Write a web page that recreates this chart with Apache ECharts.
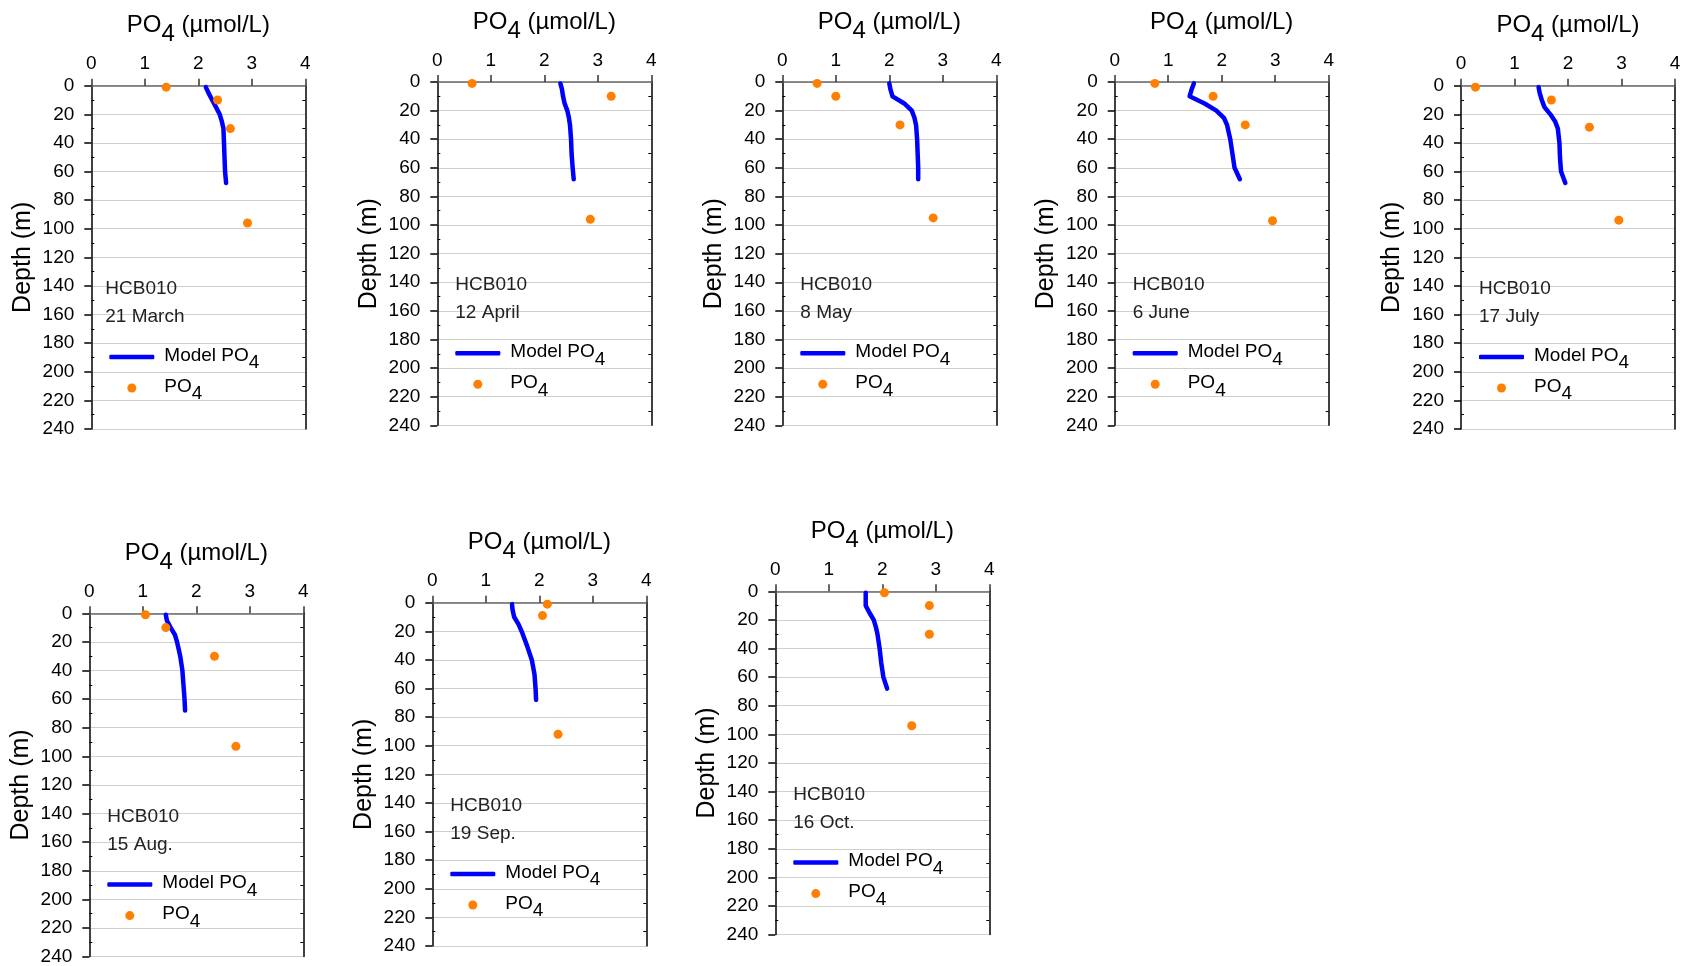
<!DOCTYPE html>
<html>
<head>
<meta charset="utf-8">
<script src="https://cdn.jsdelivr.net/npm/echarts@6/dist/echarts.min.js"></script>
<style>
html,body{margin:0;padding:0;background:#fff;}
#chart{width:1683px;height:966px;}
</style>
</head>
<body>
<div id="chart"></div>
<script>
// ---------------- DATA ----------------
const station = 'HCB010';
const dates = ['21 March', '12 April', '8 May', '6 June', '17 July', '15 Aug.', '19 Sep.', '16 Oct.'];

// model profile depths (m)
const modelDepth = [1, 5, 10, 15, 20, 25, 30, 40, 50, 60, 68];
// model PO4 (µmol/L) per survey
const model21Mar = [2.14, 2.19, 2.26, 2.33, 2.40, 2.44, 2.47, 2.48, 2.49, 2.50, 2.52];
const model12Apr = [2.30, 2.33, 2.35, 2.38, 2.43, 2.46, 2.48, 2.50, 2.51, 2.53, 2.55];
const model8May  = [2.00, 2.02, 2.06, 2.28, 2.42, 2.47, 2.50, 2.52, 2.53, 2.54, 2.54];
const model6Jun  = [1.48, 1.44, 1.40, 1.68, 1.90, 2.04, 2.10, 2.16, 2.20, 2.24, 2.34];
const model17Jul = [1.45, 1.47, 1.51, 1.56, 1.67, 1.76, 1.81, 1.84, 1.85, 1.87, 1.95];
const model15Aug = [1.43, 1.45, 1.52, 1.60, 1.64, 1.67, 1.70, 1.74, 1.76, 1.78, 1.79];
const model19Sep = [1.49, 1.50, 1.53, 1.61, 1.67, 1.72, 1.77, 1.86, 1.91, 1.93, 1.94];
const model16Oct = [1.69, 1.69, 1.69, 1.76, 1.84, 1.88, 1.91, 1.95, 1.98, 2.02, 2.09];

// observed PO4 (µmol/L) and sample depths (m)
const obsDepth21Mar = [1, 10, 30, 96];  const obs21Mar = [1.40, 2.36, 2.60, 2.92];
const obsDepth12Apr = [1, 10, 96];      const obs12Apr = [0.65, 3.25, 2.86];
const obsDepth8May  = [1, 10, 30, 95];  const obs8May  = [0.65, 1.00, 2.20, 2.82];
const obsDepth6Jun  = [1, 10, 30, 97];  const obs6Jun  = [0.75, 1.84, 2.44, 2.95];
const obsDepth17Jul = [1, 10, 29, 94];  const obs17Jul = [0.27, 1.69, 2.40, 2.95];
const obsDepth15Aug = [1, 10, 30, 93];  const obs15Aug = [1.05, 1.43, 2.34, 2.74];
const obsDepth19Sep = [1, 9, 92];       const obs19Sep = [2.15, 2.06, 2.35];
const obsDepth16Oct = [1, 10, 30, 94];  const obs16Oct = [2.04, 2.88, 2.88, 2.55];

const xMin = 0, xMax = 4, xStep = 1;
const depthMin = 0, depthMax = 240, depthStep = 20;

const modelList = [model21Mar, model12Apr, model8May, model6Jun, model17Jul, model15Aug, model19Sep, model16Oct];
const obsList = [obs21Mar, obs12Apr, obs8May, obs6Jun, obs17Jul, obs15Aug, obs19Sep, obs16Oct];
const obsDepthList = [obsDepth21Mar, obsDepth12Apr, obsDepth8May, obsDepth6Jun, obsDepth17Jul, obsDepth15Aug, obsDepth19Sep, obsDepth16Oct];

// ---------------- LAYOUT ----------------
const layout = [
  {left: 91.3,   top: 85.7,  dx: 14},
  {left: 437.3,  top: 82,    dx: 18},
  {left: 782.3,  top: 82,    dx: 18},
  {left: 1114.7, top: 82,    dx: 18},
  {left: 1461,   top: 85.7,  dx: 18},
  {left: 89.3,   top: 613.3, dx: 18},
  {left: 432.3,  top: 602.7, dx: 18},
  {left: 775.3,  top: 591.3, dx: 18}
];
const W = 214, H = 343.3;
const FONT = '"Liberation Sans", Arial, Helvetica, sans-serif';

const grids = [], xAxes = [], yAxes = [], series = [], legends = [], graphics = [];

const titleRich = {
  a: {fontSize: 24, fontFamily: FONT, color: '#000'},
  s: {fontSize: 24, fontFamily: FONT, color: '#000', padding: [18, 0, 0, 0]}
};
const legRichLine = {
  a: {fontSize: 19, fontFamily: FONT, color: '#000', padding: [0, 0, 3, 5]},
  s: {fontSize: 19, fontFamily: FONT, color: '#000', padding: [12, 0, 0, 0]}
};
const legRichDot = {
  a: {fontSize: 19, fontFamily: FONT, color: '#000', padding: [0, 0, 3, 23]},
  s: {fontSize: 19, fontFamily: FONT, color: '#000', padding: [12, 0, 0, 0]}
};

layout.forEach((p, i) => {
  grids.push({left: p.left, top: p.top, width: W, height: H, containLabel: false, outerBoundsMode: 'none'});

  xAxes.push({
    gridIndex: i, type: 'value', position: 'top', min: xMin, max: xMax, interval: xStep,
    name: '{a|PO}{s|4}{a| (\u00b5mol/L)}', nameLocation: 'middle', nameGap: 39,
    nameTextStyle: {rich: titleRich},
    axisLine: {show: true, onZero: false, lineStyle: {color: '#6a6a6a', width: 1.5}},
    axisTick: {show: true, length: 7, lineStyle: {color: '#333', width: 1.5}},
    axisLabel: {fontSize: 19, fontFamily: FONT, color: '#000', margin: 12},
    splitLine: {show: false}
  });

  // main left depth axis
  yAxes.push({
    gridIndex: i, type: 'value', inverse: true, position: 'left',
    min: depthMin, max: depthMax, interval: depthStep,
    name: 'Depth (m)', nameLocation: 'middle', nameGap: 56,
    nameTextStyle: {fontSize: 25, fontFamily: FONT, color: '#000'},
    axisLine: {show: true, onZero: false, lineStyle: {color: '#000', width: 1.5}},
    axisTick: {show: true, length: 7, lineStyle: {color: '#000', width: 1.5}},
    axisLabel: {fontSize: 19, fontFamily: FONT, color: '#000', margin: 17},
    splitLine: {show: true, lineStyle: {color: '#cfcfcf', width: 1}}
  });
  // left inner minor ticks
  yAxes.push({
    gridIndex: i, type: 'value', inverse: true, position: 'left', offset: 0,
    min: depthMin, max: depthMax, interval: depthStep,
    axisLine: {show: false, onZero: false},
    axisTick: {show: false, inside: true},
    minorTick: {show: true, splitNumber: 2, length: 3, lineStyle: {color: '#000', width: 1}},
    axisLabel: {show: false}, splitLine: {show: false}
  });
  // right frame axis
  yAxes.push({
    gridIndex: i, type: 'value', inverse: true, position: 'right',
    min: depthMin, max: depthMax, interval: depthStep,
    axisLine: {show: true, onZero: false, lineStyle: {color: '#000', width: 1.5}},
    axisTick: {show: false, inside: true},
    minorTick: {show: true, splitNumber: 2, length: 3, lineStyle: {color: '#000', width: 1}},
    axisLabel: {show: false}, splitLine: {show: false}
  });

  const model = modelList[i];
  series.push({
    type: 'line', name: 'Model PO4', xAxisIndex: i, yAxisIndex: 3 * i,
    data: model.map((v, k) => [v, modelDepth[k]]),
    symbol: 'none', smooth: false, z: 3,
    lineStyle: {color: '#0000ff', width: 4.5, cap: 'round', join: 'round'},
    itemStyle: {color: '#0000ff'},
    silent: true, animation: false
  });
  const obs = obsList[i], od = obsDepthList[i];
  series.push({
    type: 'scatter', name: 'PO4', xAxisIndex: i, yAxisIndex: 3 * i,
    data: obs.map((v, k) => [v, od[k]]),
    symbol: 'circle', symbolSize: 9, z: 4,
    itemStyle: {color: '#ff8000', opacity: 1},
    silent: true, animation: false
  });

  legends.push({
    data: ['Model PO4'], left: p.left + 18, top: p.top + 271.3 - 11, padding: 0,
    icon: 'roundRect', itemWidth: 45, itemHeight: 4.5, selectedMode: false,
    formatter: () => '{a|Model PO}{s|4}', textStyle: {rich: legRichLine}
  });
  legends.push({
    data: ['PO4'], left: p.left + 36, top: p.top + 302.3 - 11, padding: 0,
    icon: 'circle', itemWidth: 9, itemHeight: 9, selectedMode: false,
    formatter: () => '{a|PO}{s|4}', textStyle: {rich: legRichDot}
  });

  graphics.push({
    type: 'text', left: p.left + p.dx, top: p.top + 189, z: 1,
    style: {text: station + '\n' + dates[i], fontSize: 19, fontFamily: FONT, fill: '#222', lineHeight: 28}
  });
});

const chart = echarts.init(document.getElementById('chart'), null, {renderer: 'canvas'});
chart.setOption({
  animation: false,
  backgroundColor: '#fff',
  grid: grids, xAxis: xAxes, yAxis: yAxes, series: series,
  legend: legends, graphic: graphics
});
</script>
</body>
</html>
